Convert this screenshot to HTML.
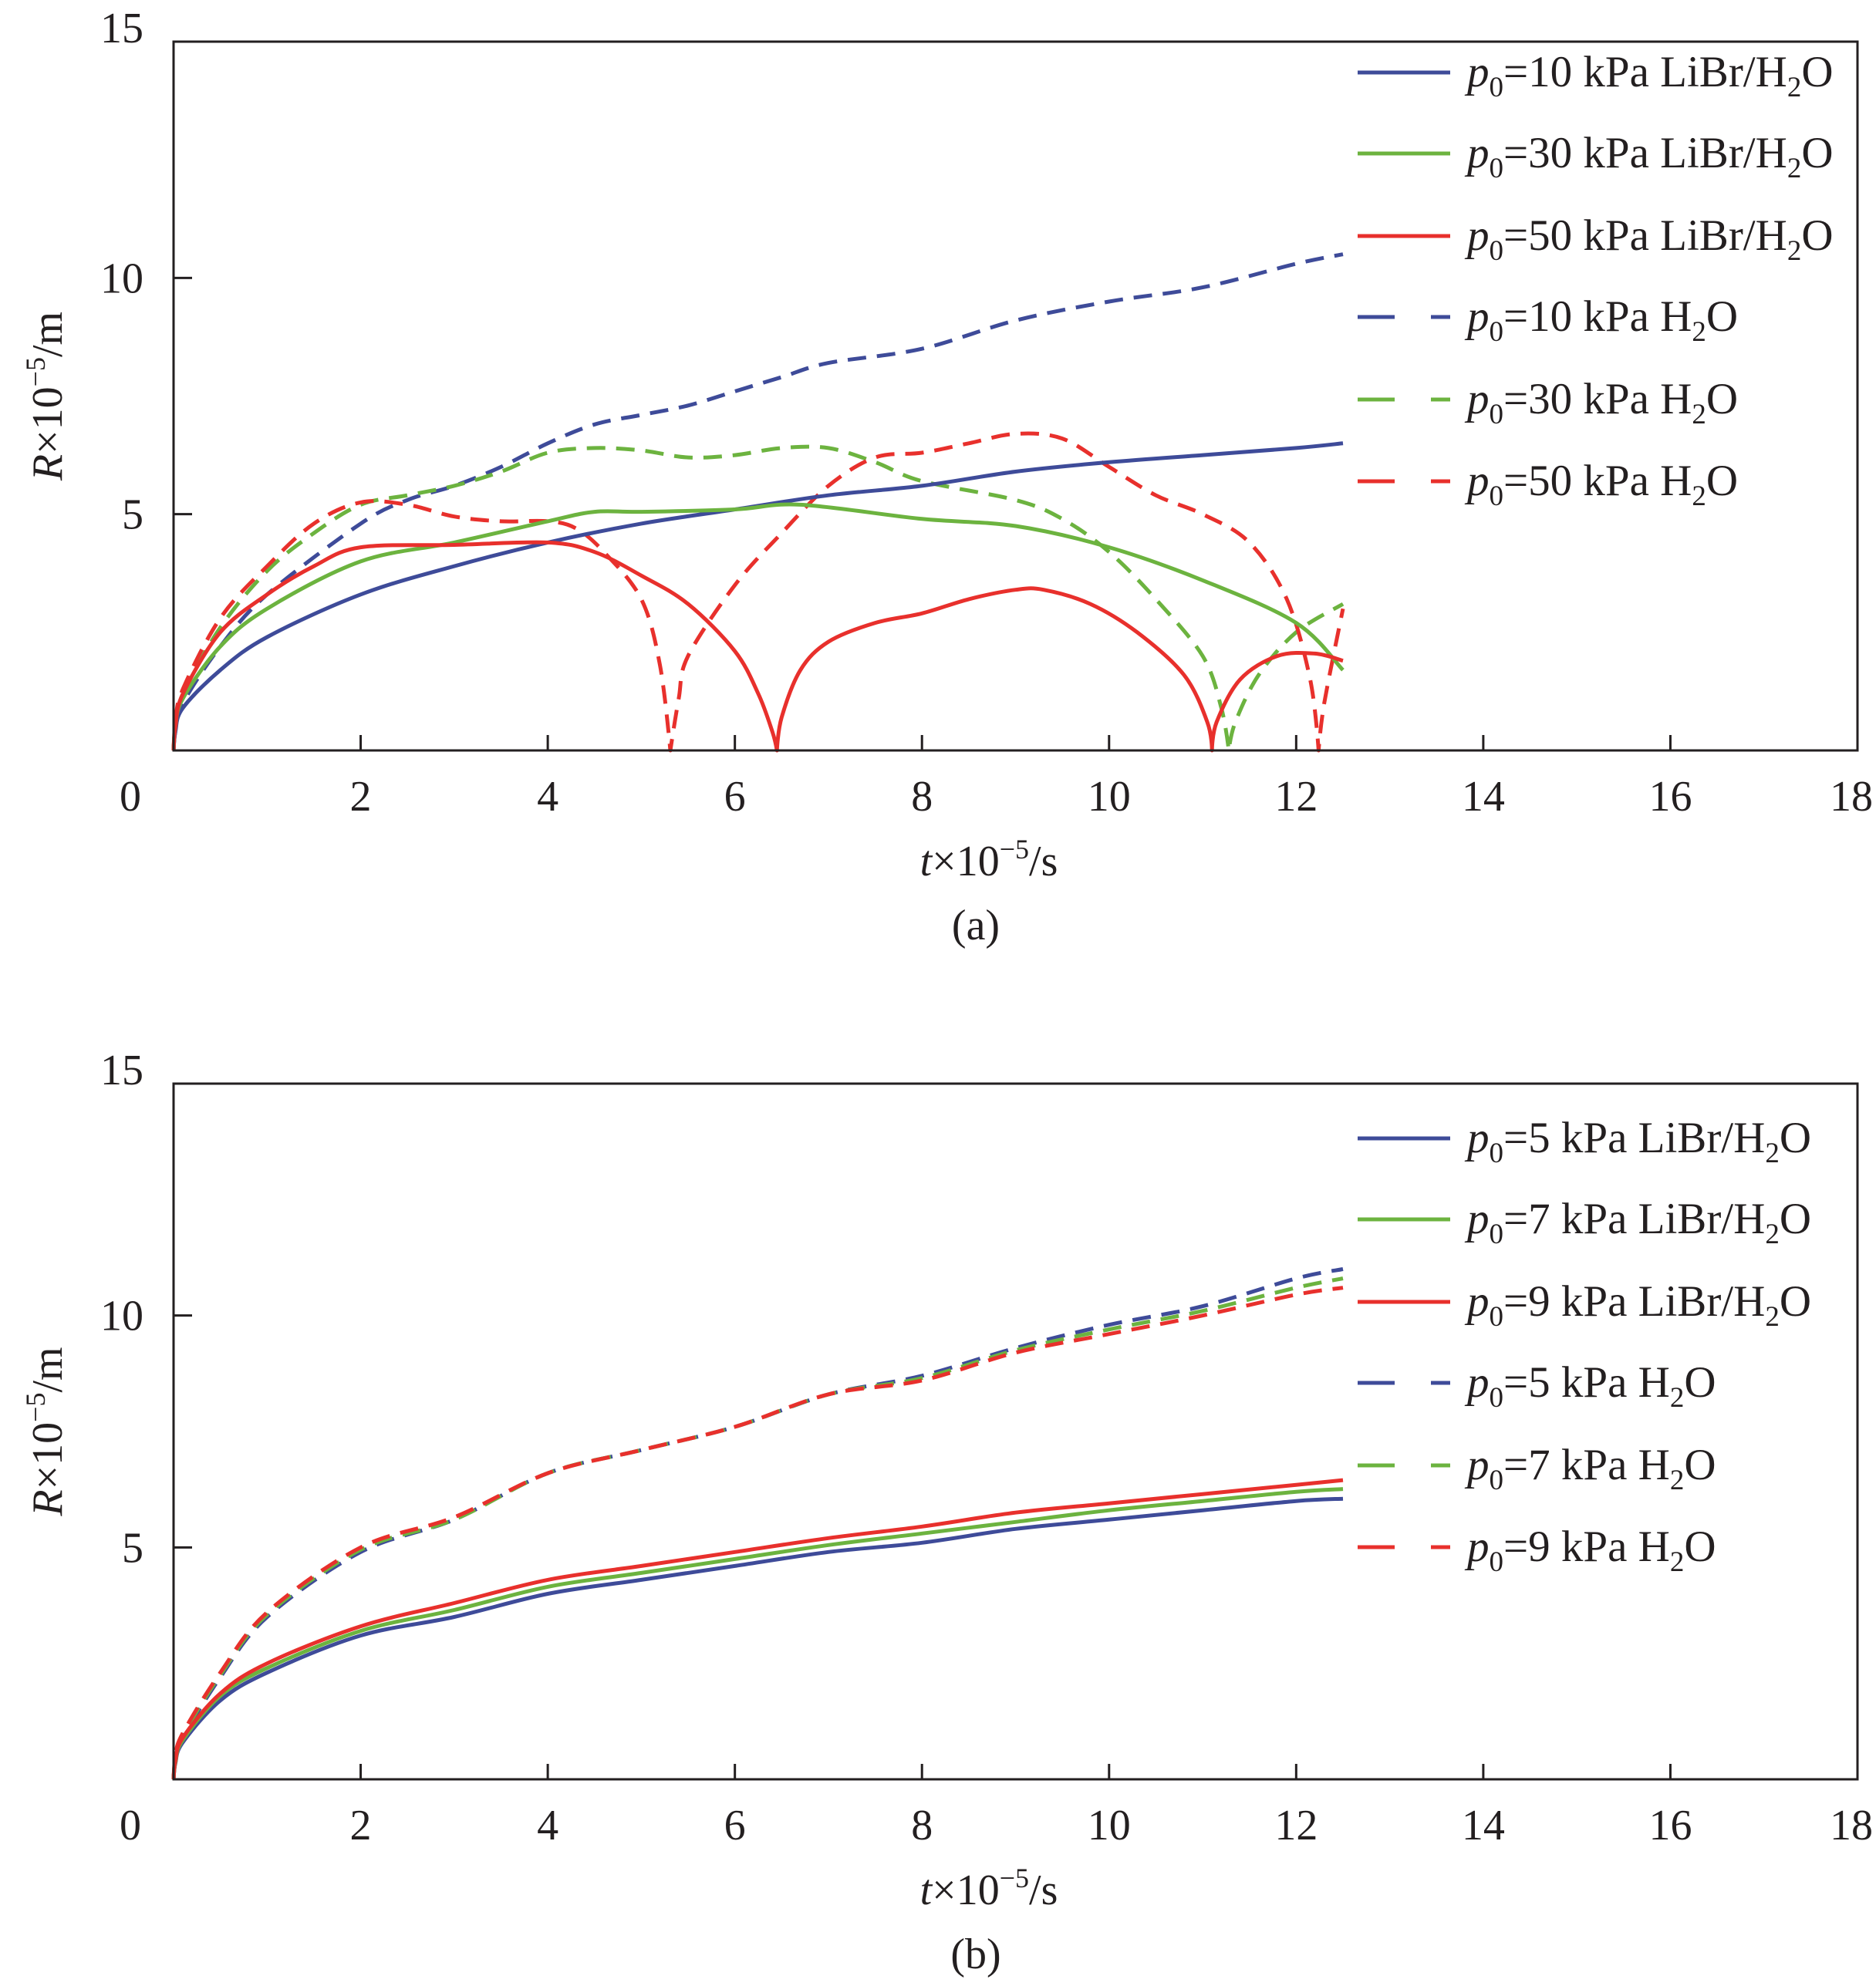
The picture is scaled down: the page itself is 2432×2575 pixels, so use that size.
<!DOCTYPE html>
<html><head><meta charset="utf-8"><style>
html,body{margin:0;padding:0;background:#fff;}
svg{display:block;}
text{font-family:"Liberation Serif",serif;fill:#231f20;}
</style></head><body>
<svg id="fig" width="2432" height="2575" viewBox="0 0 2432 2575" xmlns="http://www.w3.org/2000/svg"></svg>
<script>
// ---------- data ----------
const xTicks=[2,4,6,8,10,12,14,16,18];
const yTicks=[5,10,15];
// Panel (a)
const a_b_s_t=[0,0.02,0.1,0.5,1,2,3,4,5,6,7,8,9,10,11,12,12.5];
const a_b_s_r=[0,0.4,0.9,1.7,2.4,3.3,3.9,4.4,4.8,5.1,5.4,5.6,5.9,6.1,6.25,6.4,6.5];
const a_g_s_t=[0,0.02,0.1,0.5,1,2,3,4,4.5,5,6,6.7,8,9,10,11,12,12.5];
const a_g_s_r=[0,0.5,1.1,2.2,3.0,4.0,4.4,4.85,5.05,5.05,5.1,5.2,4.9,4.75,4.3,3.6,2.7,1.7];
const a_r_s_t=[0,0.02,0.1,0.5,1,1.5,2,3,4,4.5,5,5.5,6,6.25,6.4,6.45,6.5,6.7,7,7.5,8,8.5,9,9.3,9.8,10.3,10.8,11.05,11.1,11.15,11.4,11.8,12.2,12.5];
const a_r_s_r=[0,0.5,1.2,2.5,3.3,3.9,4.3,4.35,4.4,4.2,3.7,3.1,2.1,1.2,0.4,0,0.7,1.7,2.3,2.7,2.9,3.2,3.4,3.4,3.1,2.5,1.6,0.6,0,0.6,1.5,2.0,2.05,1.9];
const a_b_d_t=[0,0.02,0.1,0.5,1,2,2.5,3,3.5,4,4.5,5,5.5,6,6.5,7,8,9,10,11,12,12.5];
const a_b_d_r=[0,0.4,1.0,2.2,3.3,4.8,5.3,5.6,6.0,6.5,6.9,7.1,7.3,7.6,7.9,8.2,8.5,9.1,9.5,9.8,10.3,10.5];
const a_g_d_t=[0,0.02,0.1,0.5,1,1.5,2,2.5,3,3.5,4,4.5,5,5.5,6,6.5,7,7.5,8,9,9.5,10,10.5,11,11.2,11.28,11.35,11.6,12,12.5];
const a_g_d_r=[0,0.5,1.2,2.6,3.8,4.6,5.2,5.4,5.6,5.9,6.3,6.4,6.35,6.2,6.25,6.4,6.4,6.1,5.7,5.3,4.9,4.2,3.2,2.0,0.9,0,0.6,1.6,2.5,3.1];
const a_r_d_t=[0,0.02,0.1,0.5,1,1.5,2,2.5,3,3.5,4,4.3,4.6,5,5.2,5.31,5.4,5.5,6,6.5,7,7.5,8,8.5,9,9.5,10,10.5,11,11.5,11.9,12.15,12.24,12.3,12.5];
const a_r_d_r=[0,0.6,1.3,2.8,3.9,4.8,5.25,5.2,4.95,4.85,4.85,4.7,4.2,3.2,1.8,0,1.1,2.0,3.5,4.6,5.6,6.2,6.3,6.5,6.7,6.6,6.0,5.4,5.0,4.4,3.2,1.5,0,1.0,3.0];
// Panel (b)
const b_t=[0,0.02,0.1,0.5,1,2,3,4,5,6,7,8,9,10,11,12,12.5];
const b_b_s_r=[0,0.35,0.8,1.7,2.3,3.1,3.5,4.0,4.3,4.6,4.9,5.1,5.4,5.6,5.8,6.0,6.05];
const b_g_s_r=[0,0.37,0.85,1.8,2.4,3.2,3.65,4.15,4.45,4.75,5.05,5.3,5.55,5.8,6.0,6.2,6.26];
const b_r_s_r=[0,0.4,0.9,1.85,2.5,3.3,3.8,4.3,4.6,4.9,5.2,5.45,5.75,5.95,6.15,6.35,6.45];
const b_b_d_r=[0,0.4,0.9,2.2,3.5,4.9,5.6,6.6,7.1,7.6,8.3,8.7,9.3,9.8,10.2,10.8,11.0];
const b_g_d_r=[0,0.45,0.95,2.25,3.55,4.95,5.6,6.6,7.1,7.6,8.3,8.65,9.25,9.7,10.1,10.6,10.8];
const b_r_d_r=[0,0.5,1.0,2.3,3.6,5.0,5.65,6.6,7.1,7.6,8.3,8.6,9.2,9.6,10.0,10.45,10.6];

const BLUE="#3e4b99",GREEN="#6cb33f",RED="#e8302c";
const NS="http://www.w3.org/2000/svg";
const svg=document.getElementById('fig');
function mk(tag,attrs,parent){const e=document.createElementNS(NS,tag);for(const k in attrs)e.setAttribute(k,attrs[k]);(parent||svg).appendChild(e);return e;}

function panel(cfg){
  const L=225,R=2408,T=cfg.top,B=cfg.bot;
  const xs=v=>L+(R-L)*v/18, ys=v=>B-(B-T)*v/15;
  const g=mk('g',{});
  
  
  cfg.series.forEach(s=>{
    const pts=s.t.map((t,i)=>[xs(t),ys(s.r[i])]);
    let d='M'+pts[0][0].toFixed(1)+','+pts[0][1].toFixed(1);
    for(let i=0;i<pts.length-1;i++){
      const p0=pts[Math.max(i-1,0)],p1=pts[i],p2=pts[i+1],p3=pts[Math.min(i+2,pts.length-1)];
      let c1=[p1[0]+(p2[0]-p0[0])/6,p1[1]+(p2[1]-p0[1])/6];
      let c2=[p2[0]-(p3[0]-p1[0])/6,p2[1]-(p3[1]-p1[1])/6];
      if(s.r[i]===0&&i>0){c1=[p1[0],p1[1]];}
      if(s.r[i+1]===0){c2=[p2[0],p2[1]];}
      d+=' C'+c1[0].toFixed(1)+','+c1[1].toFixed(1)+' '+c2[0].toFixed(1)+','+c2[1].toFixed(1)+' '+p2[0].toFixed(1)+','+p2[1].toFixed(1);
    }
    const p=mk('path',{d:d,fill:'none',stroke:s.c,'stroke-width':5,'stroke-dasharray':s.dash?'24,14':'none','stroke-linejoin':'round'},g);
    
    
  });
  const f=mk('rect',{x:L,y:T,width:R-L,height:B-T,fill:'none',stroke:'#231f20','stroke-width':3},g);
  
  
  xTicks.forEach(v=>{
    if(v<18){const tk=mk('line',{x1:xs(v),x2:xs(v),y1:B,y2:B-20,stroke:'#231f20','stroke-width':3},g);
    
    }
    const tl=mk('text',{x:xs(v)-(v==18?8:0),y:B+78,'font-size':56,'text-anchor':'middle'},g);
    tl.textContent=v;
    
    
  });
  const z=mk('text',{x:169,y:B+78,'font-size':56,'text-anchor':'middle'},g);z.textContent='0';
  
  
  yTicks.forEach(v=>{
    if(v<15){const tk=mk('line',{x1:L,x2:L+24,y1:ys(v),y2:ys(v),stroke:'#231f20','stroke-width':3},g);
    
    }
    const tl=mk('text',{x:186,y:ys(v)-(v==15?18:0)+19,'font-size':56,'text-anchor':'end'},g);
    tl.textContent=v;
    
    
  });
  const xt=mk('text',{x:1282,y:B+162,'font-size':56,'text-anchor':'middle'},g);
  xt.innerHTML='<tspan font-style="italic">t</tspan>×10<tspan dy="-22" font-size="36">−5</tspan><tspan dy="22">/s</tspan>';
  
  
  const cy=(T+B)/2;
  const yt=mk('text',{x:0,y:0,'font-size':56,'text-anchor':'middle',transform:'translate(80,'+cy+') rotate(-90)'},g);
  yt.innerHTML='<tspan font-style="italic">R</tspan>×10<tspan dy="-22" font-size="36">−5</tspan><tspan dy="22">/m</tspan>';
  
  
  const cap=mk('text',{x:1265,y:B+245,'font-size':56,'text-anchor':'middle'},g);
  cap.textContent=cfg.cap;
  
  
  cfg.legend.forEach((lg,i)=>{
    const y=cfg.legY[i];
    const eg=mk('g',{},g);
    
    
    if(lg.dash){
      mk('line',{x1:1760,x2:1808,y1:y,y2:y,stroke:lg.c,'stroke-width':5},eg);
      mk('line',{x1:1855,x2:1880,y1:y,y2:y,stroke:lg.c,'stroke-width':5},eg);
    } else mk('line',{x1:1760,x2:1880,y1:y,y2:y,stroke:lg.c,'stroke-width':5},eg);
    const t=mk('text',{x:1902,y:y+18,'font-size':57},eg);
    t.innerHTML='<tspan font-style="italic">p</tspan><tspan dy="13" font-size="37">0</tspan><tspan dy="-13">='+lg.p+' kPa '+(lg.dash?'':'LiBr/')+'H</tspan><tspan dy="13" font-size="37">2</tspan><tspan dy="-13">O</tspan>';
  });
}

panel({name:'chart-a',top:54,bot:973,cap:'(a)',
  legY:[94,199,306,411,518,624],
  legend:[{c:BLUE,p:10},{c:GREEN,p:30},{c:RED,p:50},{c:BLUE,p:10,dash:1},{c:GREEN,p:30,dash:1},{c:RED,p:50,dash:1}],
  series:[
    {id:'line-10kpa-h2o',t:a_b_d_t,r:a_b_d_r,c:BLUE,dash:1},
    {id:'line-30kpa-h2o',t:a_g_d_t,r:a_g_d_r,c:GREEN,dash:1},
    {id:'line-50kpa-h2o',t:a_r_d_t,r:a_r_d_r,c:RED,dash:1},
    {id:'line-10kpa-libr',t:a_b_s_t,r:a_b_s_r,c:BLUE},
    {id:'line-30kpa-libr',t:a_g_s_t,r:a_g_s_r,c:GREEN},
    {id:'line-50kpa-libr',t:a_r_s_t,r:a_r_s_r,c:RED}]});
panel({name:'chart-b',top:1405,bot:2307,cap:'(b)',
  legY:[1476,1581,1688,1793,1900,2006],
  legend:[{c:BLUE,p:5},{c:GREEN,p:7},{c:RED,p:9},{c:BLUE,p:5,dash:1},{c:GREEN,p:7,dash:1},{c:RED,p:9,dash:1}],
  series:[
    {id:'line-5kpa-h2o',t:b_t,r:b_b_d_r,c:BLUE,dash:1},
    {id:'line-7kpa-h2o',t:b_t,r:b_g_d_r,c:GREEN,dash:1},
    {id:'line-9kpa-h2o',t:b_t,r:b_r_d_r,c:RED,dash:1},
    {id:'line-5kpa-libr',t:b_t,r:b_b_s_r,c:BLUE},
    {id:'line-7kpa-libr',t:b_t,r:b_g_s_r,c:GREEN},
    {id:'line-9kpa-libr',t:b_t,r:b_r_s_r,c:RED}]});
</script>
</body></html>
